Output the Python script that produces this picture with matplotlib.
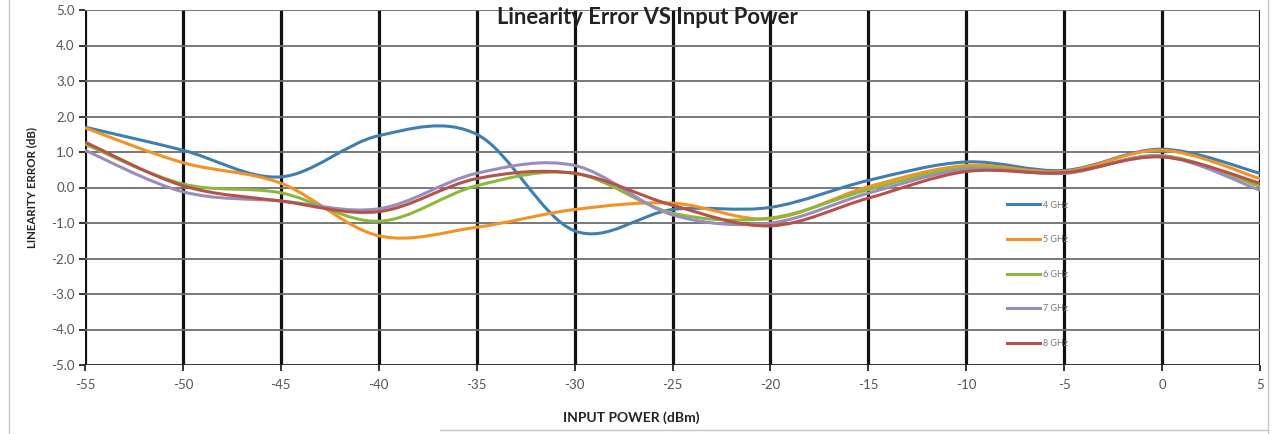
import matplotlib
matplotlib.use('Agg')
import matplotlib.pyplot as plt
from matplotlib.path import Path
from matplotlib.patches import PathPatch
from matplotlib.lines import Line2D

# Input power points (dBm)
potencia = [-55, -50, -45, -40, -35, -30, -25, -20, -15, -10, -5, 0, 5]

# Linearity error (dB) read per frequency
err_4ghz = [1.70, 1.05, 0.30, 1.46, 1.50, -1.22, -0.62, -0.56, 0.20, 0.72, 0.48, 1.08, 0.40]
err_5ghz = [1.68, 0.70, 0.12, -1.36, -1.12, -0.62, -0.44, -0.88, 0.02, 0.62, 0.45, 1.05, 0.25]
err_6ghz = [1.22, 0.10, -0.15, -0.95, 0.05, 0.40, -0.72, -0.86, -0.06, 0.56, 0.40, 0.90, 0.03]
err_7ghz = [1.05, -0.12, -0.38, -0.60, 0.40, 0.62, -0.77, -1.00, -0.16, 0.51, 0.40, 0.88, -0.08]
err_8ghz = [1.28, 0.05, -0.38, -0.68, 0.25, 0.40, -0.50, -1.08, -0.30, 0.45, 0.42, 0.86, 0.12]

series = [err_4ghz, err_5ghz, err_6ghz, err_7ghz, err_8ghz]
etiquetas = ['4 GHz', '5 GHz', '6 GHz', '7 GHz', '8 GHz']
colores = ['#3F7FB0', '#F39325', '#8DB83F', '#9A8DBB', '#B5534B']

plt.rcParams['font.family'] = ['Lato', 'DejaVu Sans']
plt.rcParams['axes.unicode_minus'] = False


def curva_suave(xs, ys):
    # Excel-like smoothed line: cubic bezier segments through the data points
    n = len(xs)
    verts = [(xs[0], ys[0])]
    codes = [Path.MOVETO]
    for i in range(n - 1):
        i0 = max(i - 1, 0)
        i3 = min(i + 2, n - 1)
        c1 = (xs[i] + (xs[i + 1] - xs[i0]) / 6, ys[i] + (ys[i + 1] - ys[i0]) / 6)
        c2 = (xs[i + 1] - (xs[i3] - xs[i]) / 6, ys[i + 1] - (ys[i3] - ys[i]) / 6)
        verts += [c1, c2, (xs[i + 1], ys[i + 1])]
        codes += [Path.CURVE4] * 3
    return Path(verts, codes)


fig = plt.figure(figsize=(12.75, 4.34), dpi=100)
ax = fig.add_axes([85 / 1275, 1 - 365 / 434, 1175 / 1275, 355 / 434])

ax.set_xlim(-55, 5)
ax.set_ylim(-5, 5)
ax.set_xticks(potencia)
ax.set_yticks(range(-5, 6))
ax.set_yticklabels(['%.1f' % v for v in range(-5, 6)])

# Grid: black vertical, grey horizontal
for xv in potencia:
    ax.axvline(xv, color='#111111', lw=2.3, zorder=1)
for yv in range(-4, 6):
    ax.axhline(yv, color='#6e6e6e', lw=1.3, zorder=1)
ax.axhline(-5, color='#222222', lw=2.0, zorder=1)

for s in ['top', 'right', 'left', 'bottom']:
    ax.spines[s].set_visible(False)

ax.tick_params(axis='both', colors='#111111', labelcolor='#555555', labelsize=9.5,
               width=1.2, length=4)
ax.tick_params(axis='x', pad=6)

for ys, c in zip(series, colores):
    ax.add_patch(PathPatch(curva_suave(potencia, ys), fill=False, edgecolor=c, lw=2.2, zorder=3))

handles = [Line2D([0], [0], color=c, lw=2.2) for c in colores]
ax.legend(handles, etiquetas, loc='upper left', bbox_to_anchor=(0.785, 0.463), frameon=False,
          fontsize=6.5, labelcolor='#777777', handlelength=3.6, handletextpad=0.3,
          labelspacing=2.83, borderpad=0, borderaxespad=0)

ax.text(0.479, 0.978, 'Linearity Error VS Input Power', transform=ax.transAxes,
        ha='center', va='center', fontsize=15.8, fontweight='bold', color='#222222', zorder=5)

ax.set_ylabel('LINEARITY ERROR (dB)', fontsize=8.3, fontweight='bold', color='#222222', labelpad=10)
fig.text(631 / 1275, 1 - 418 / 434, 'INPUT POWER (dBm)', ha='center', va='center',
         fontsize=10, fontweight='bold', color='#222222')

# scanned page border
fig.add_artist(Line2D([9 / 1275, 9 / 1275], [0, 1], color='#c8c8c8', lw=1))
fig.add_artist(Line2D([1268 / 1275, 1268 / 1275], [0, 1], color='#c8c8c8', lw=1))
fig.add_artist(Line2D([440 / 1275, 1268 / 1275], [1 - 430 / 434, 1 - 430 / 434], color='#c8c8c8', lw=1))

fig.savefig('out.png', dpi=100)
